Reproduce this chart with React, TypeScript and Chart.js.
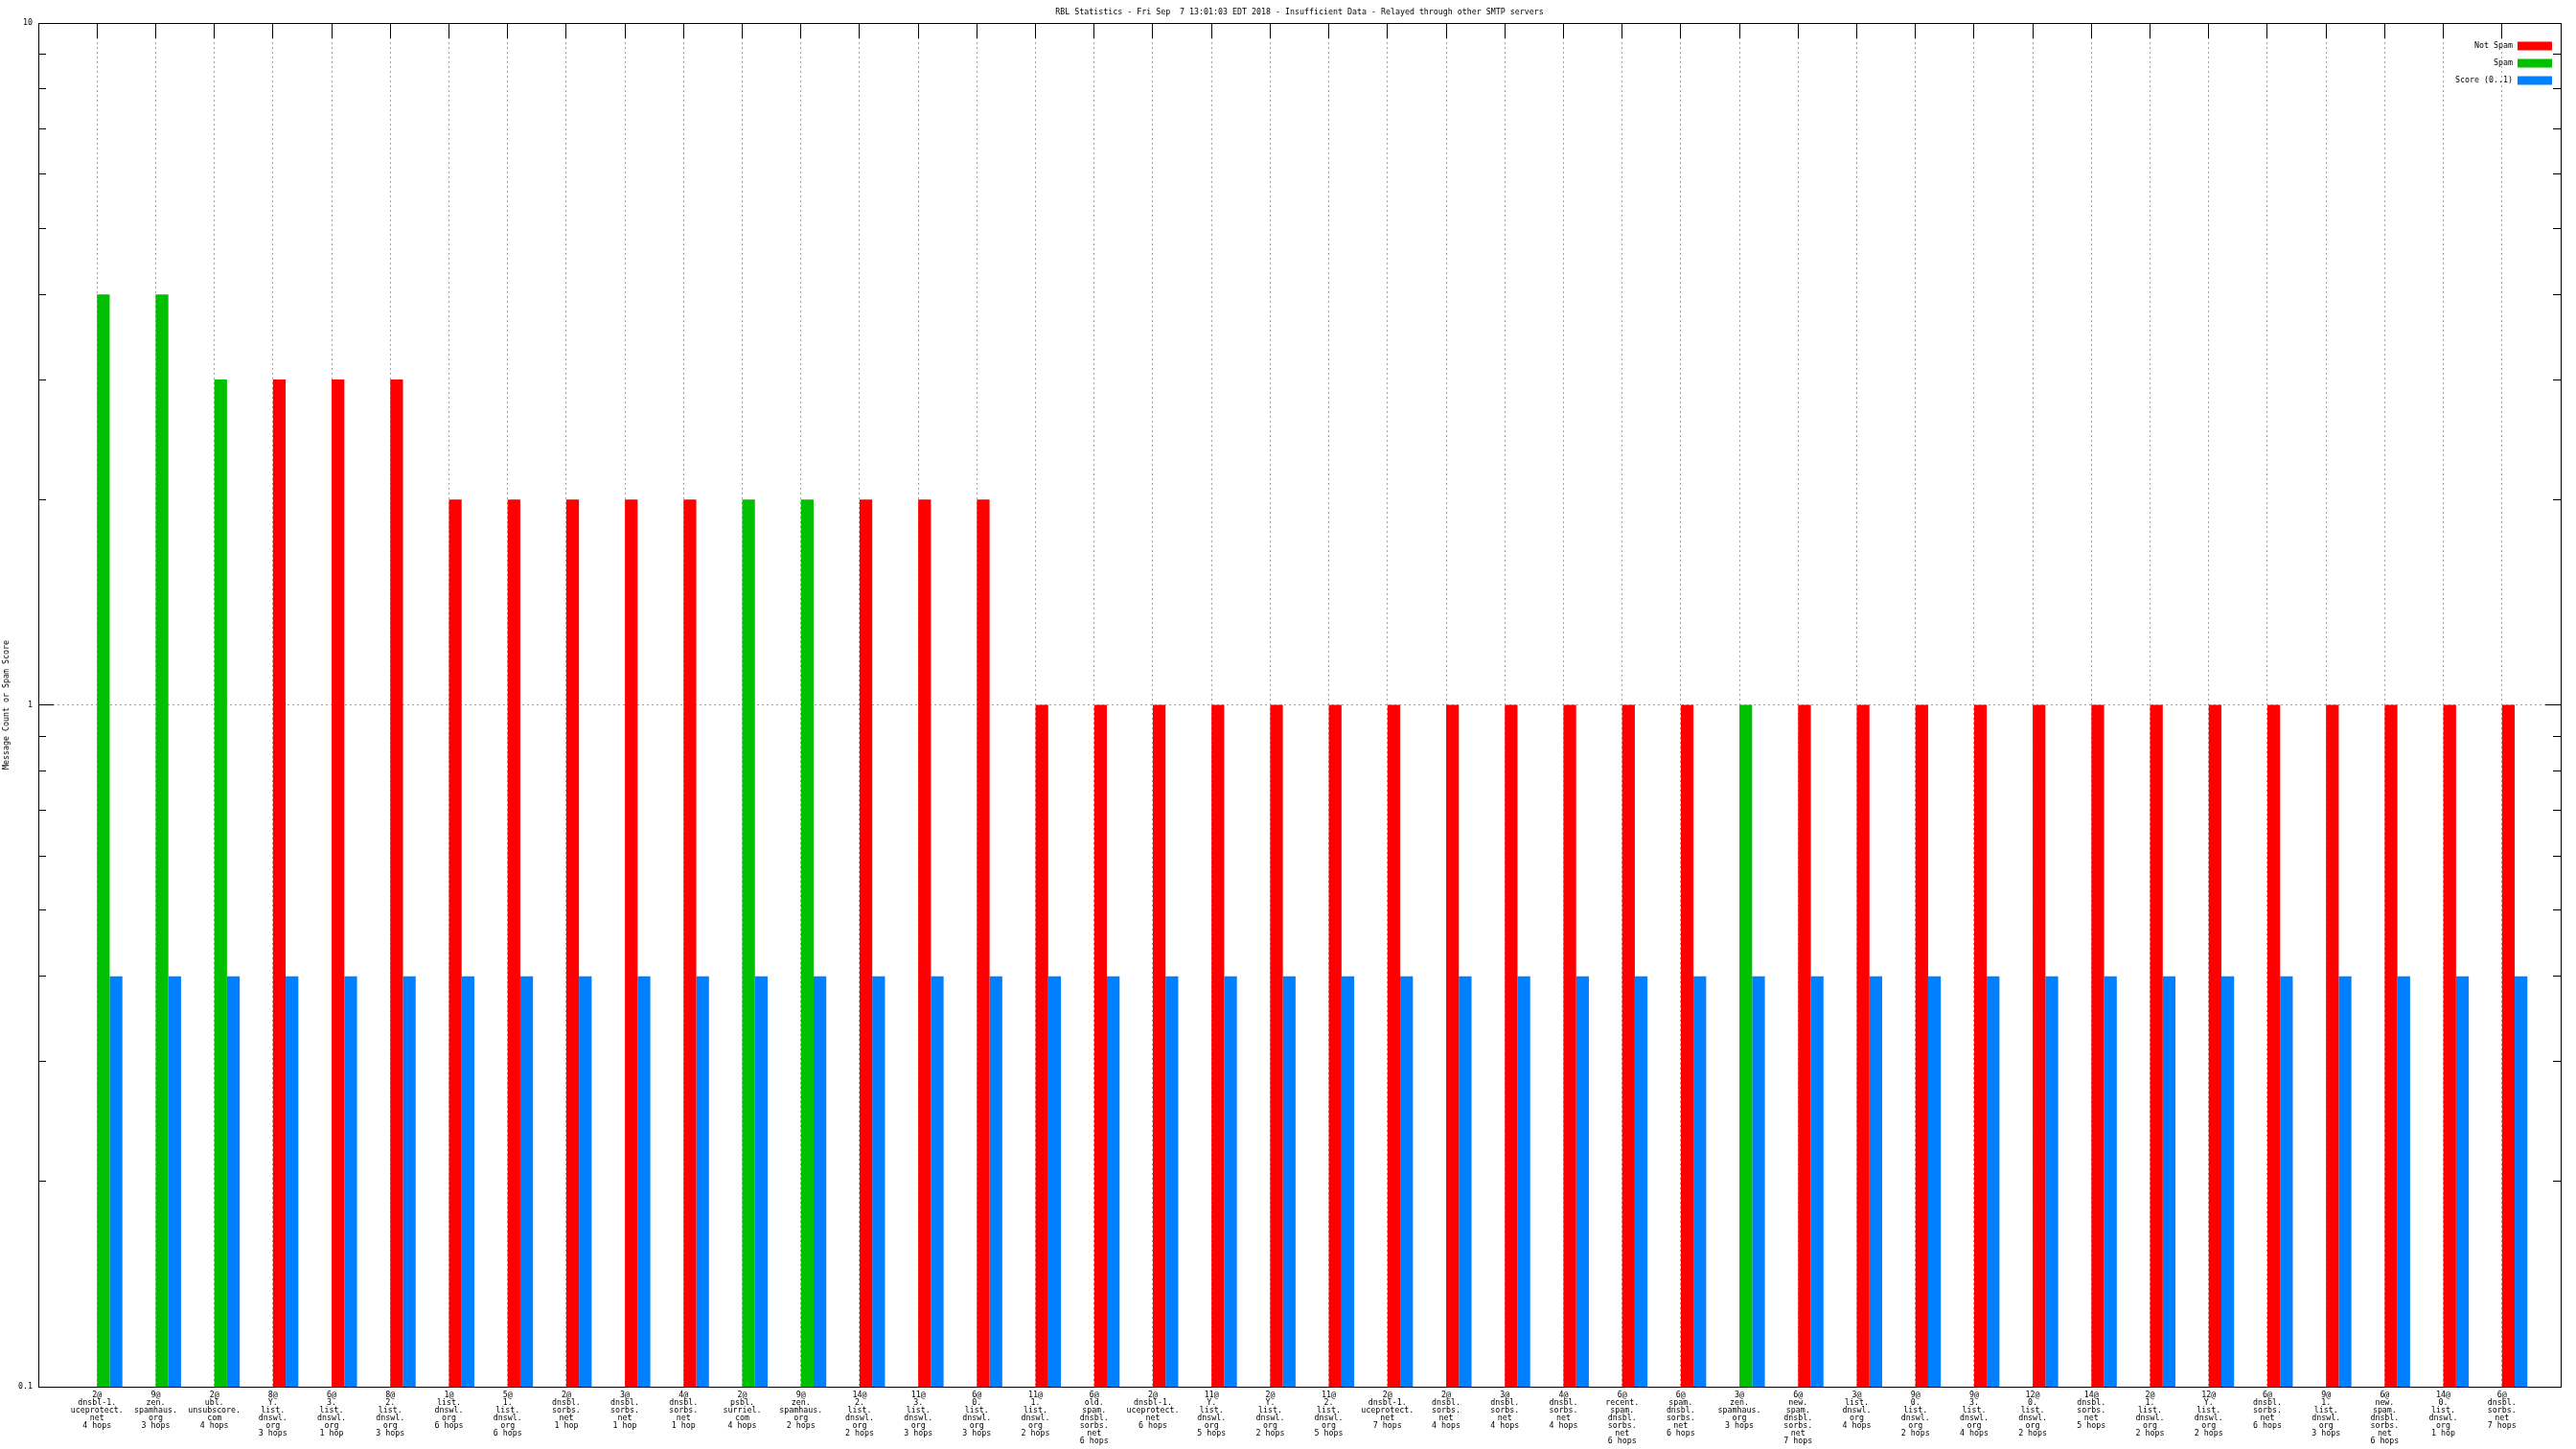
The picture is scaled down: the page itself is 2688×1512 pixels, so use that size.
import React, { useEffect, useRef } from 'react';
import { Chart, registerables } from 'chart.js';

Chart.register(...registerables);

const TITLE =
  'RBL Statistics - Fri Sep  7 13:01:03 EDT 2018 - Insufficient Data - Relayed through other SMTP servers';
const Y_TITLE = 'Message Count or Spam Score';

const categories: string[] = [
  '2@\ndnsbl-1.\nuceprotect.\nnet\n4 hops',
  '9@\nzen.\nspamhaus.\norg\n3 hops',
  '2@\nubl.\nunsubscore.\ncom\n4 hops',
  '8@\nY.\nlist.\ndnswl.\norg\n3 hops',
  '6@\n3.\nlist.\ndnswl.\norg\n1 hop',
  '8@\n2.\nlist.\ndnswl.\norg\n3 hops',
  '1@\nlist.\ndnswl.\norg\n6 hops',
  '5@\n1.\nlist.\ndnswl.\norg\n6 hops',
  '2@\ndnsbl.\nsorbs.\nnet\n1 hop',
  '3@\ndnsbl.\nsorbs.\nnet\n1 hop',
  '4@\ndnsbl.\nsorbs.\nnet\n1 hop',
  '2@\npsbl.\nsurriel.\ncom\n4 hops',
  '9@\nzen.\nspamhaus.\norg\n2 hops',
  '14@\n2.\nlist.\ndnswl.\norg\n2 hops',
  '11@\n3.\nlist.\ndnswl.\norg\n3 hops',
  '6@\n0.\nlist.\ndnswl.\norg\n3 hops',
  '11@\n1.\nlist.\ndnswl.\norg\n2 hops',
  '6@\nold.\nspam.\ndnsbl.\nsorbs.\nnet\n6 hops',
  '2@\ndnsbl-1.\nuceprotect.\nnet\n6 hops',
  '11@\nY.\nlist.\ndnswl.\norg\n5 hops',
  '2@\nY.\nlist.\ndnswl.\norg\n2 hops',
  '11@\n2.\nlist.\ndnswl.\norg\n5 hops',
  '2@\ndnsbl-1.\nuceprotect.\nnet\n7 hops',
  '2@\ndnsbl.\nsorbs.\nnet\n4 hops',
  '3@\ndnsbl.\nsorbs.\nnet\n4 hops',
  '4@\ndnsbl.\nsorbs.\nnet\n4 hops',
  '6@\nrecent.\nspam.\ndnsbl.\nsorbs.\nnet\n6 hops',
  '6@\nspam.\ndnsbl.\nsorbs.\nnet\n6 hops',
  '3@\nzen.\nspamhaus.\norg\n3 hops',
  '6@\nnew.\nspam.\ndnsbl.\nsorbs.\nnet\n7 hops',
  '3@\nlist.\ndnswl.\norg\n4 hops',
  '9@\n0.\nlist.\ndnswl.\norg\n2 hops',
  '9@\n3.\nlist.\ndnswl.\norg\n4 hops',
  '12@\n0.\nlist.\ndnswl.\norg\n2 hops',
  '14@\ndnsbl.\nsorbs.\nnet\n5 hops',
  '2@\n1.\nlist.\ndnswl.\norg\n2 hops',
  '12@\nY.\nlist.\ndnswl.\norg\n2 hops',
  '6@\ndnsbl.\nsorbs.\nnet\n6 hops',
  '9@\n1.\nlist.\ndnswl.\norg\n3 hops',
  '6@\nnew.\nspam.\ndnsbl.\nsorbs.\nnet\n6 hops',
  '14@\n0.\nlist.\ndnswl.\norg\n1 hop',
  '6@\ndnsbl.\nsorbs.\nnet\n7 hops',
];

const messageCounts: number[] = [
  4, 4, 3, 3, 3, 3, 2, 2, 2, 2, 2, 2, 2, 2, 2, 2, 1, 1, 1, 1, 1,
  1, 1, 1, 1, 1, 1, 1, 1, 1, 1, 1, 1, 1, 1, 1, 1, 1, 1, 1, 1, 1,
];

const messageKinds: string[] = [
  'spam', 'spam', 'spam', 'ham', 'ham', 'ham', 'ham', 'ham', 'ham', 'ham', 'ham',
  'spam', 'spam', 'ham', 'ham', 'ham', 'ham', 'ham', 'ham', 'ham', 'ham',
  'ham', 'ham', 'ham', 'ham', 'ham', 'ham', 'ham', 'spam', 'ham', 'ham',
  'ham', 'ham', 'ham', 'ham', 'ham', 'ham', 'ham', 'ham', 'ham', 'ham', 'ham',
];

const spamScores: number[] = [
  0.4, 0.4, 0.4, 0.4, 0.4, 0.4, 0.4, 0.4, 0.4, 0.4, 0.4, 0.4, 0.4, 0.4,
  0.4, 0.4, 0.4, 0.4, 0.4, 0.4, 0.4, 0.4, 0.4, 0.4, 0.4, 0.4, 0.4, 0.4,
  0.4, 0.4, 0.4, 0.4, 0.4, 0.4, 0.4, 0.4, 0.4, 0.4, 0.4, 0.4, 0.4, 0.4,
];

const yMajorTicks: number[] = [0.1, 1, 10];
const yMinorTicks: number[] = [0.2, 0.3, 0.4, 0.5, 0.6, 0.7, 0.8, 0.9, 2, 3, 4, 5, 6, 7, 8, 9];

const legendLabels: string[] = ['Not Spam', 'Spam', 'Score (0..1)'];

const RED = '#ff0000';
const GREEN = '#00c000';
const BLUE = '#0080ff';
const GRID = '#a0a0a0';
const legendColors: string[] = [RED, GREEN, BLUE];
const kindColors: Record<string, string> = { ham: RED, spam: GREEN };

const FONT_FAMILY = '"DejaVu Sans Mono", monospace';
const FONT_SIZE = 8.3;
const GROUP_WIDTH = 0.433;
const TICK_SHIFT = GROUP_WIDTH / 2;

const align = (p: number) => Math.round(p - 0.5) + 0.5;

const gnuplotFrame = {
  id: 'gnuplotFrame',
  beforeDraw(chart: any) {
    const { ctx, width, height } = chart;
    ctx.save();
    ctx.fillStyle = '#ffffff';
    ctx.fillRect(0, 0, width, height);
    ctx.restore();
  },
  beforeDatasetsDraw(chart: any) {
    const { ctx, chartArea: a, scales } = chart;
    ctx.save();
    ctx.strokeStyle = '#000000';
    ctx.lineWidth = 1;
    ctx.beginPath();
    const yTick = (v: number, len: number) => {
      const y = align(scales.y.getPixelForValue(v));
      ctx.moveTo(a.left, y);
      ctx.lineTo(a.left + len, y);
      ctx.moveTo(a.right, y);
      ctx.lineTo(a.right - len, y);
    };
    yMajorTicks.forEach((v) => yTick(v, 16));
    yMinorTicks.forEach((v) => yTick(v, 8));
    scales.x.ticks.forEach((t: any) => {
      const x = align(scales.x.getPixelForValue(t.value));
      ctx.moveTo(x, a.top);
      ctx.lineTo(x, a.top + 16);
    });
    ctx.stroke();
    ctx.restore();
  },
  afterDatasetsDraw(chart: any) {
    const { ctx, chartArea: a } = chart;
    ctx.save();
    ctx.strokeStyle = '#000000';
    ctx.lineWidth = 1;
    const l = align(a.left);
    const t = align(a.top);
    const r = align(a.right);
    const b = align(a.bottom);
    ctx.strokeRect(l, t, r - l, b - t);
    ctx.restore();
  },
  afterDraw(chart: any) {
    const { ctx, chartArea: a } = chart;
    ctx.save();
    ctx.font = `${FONT_SIZE}px ${FONT_FAMILY}`;
    ctx.textAlign = 'right';
    ctx.textBaseline = 'middle';
    legendLabels.forEach((label, i) => {
      const y = a.top + 24 + i * 18;
      ctx.fillStyle = '#000000';
      ctx.fillText(label, a.right - 50, y);
      ctx.fillStyle = legendColors[i];
      ctx.fillRect(a.right - 45, y - 4.5, 36, 9);
    });
    ctx.restore();
  },
};

export default function App() {
  const ref = useRef<HTMLCanvasElement>(null);

  useEffect(() => {
    const canvas = ref.current;
    if (!canvas) return;
    const font = { family: FONT_FAMILY, size: FONT_SIZE, weight: 'normal' as const };
    const chart = new Chart(canvas, {
      type: 'bar',
      data: {
        datasets: [
          {
            label: 'Message Count',
            data: messageCounts.map((v, i) => ({ x: i, y: v })),
            backgroundColor: messageKinds.map((k) => kindColors[k]),
            borderWidth: 0,
            categoryPercentage: GROUP_WIDTH,
            barPercentage: 1,
          },
          {
            label: 'Score (0..1)',
            data: spamScores.map((v, i) => ({ x: i, y: v })),
            backgroundColor: BLUE,
            borderWidth: 0,
            categoryPercentage: GROUP_WIDTH,
            barPercentage: 1,
          },
        ],
      },
      options: {
        responsive: false,
        animation: false,
        devicePixelRatio: 1,
        layout: { padding: { left: 0, right: 16, top: 0, bottom: 0 } },
        plugins: {
          legend: { display: false },
          tooltip: { enabled: false },
          title: {
            display: true,
            text: TITLE,
            fullSize: false,
            color: '#000000',
            font: { ...font, lineHeight: '9px' },
            padding: { top: 8, bottom: 7 },
          },
        },
        scales: {
          x: {
            type: 'linear',
            offset: false,
            min: -1 - TICK_SHIFT,
            max: categories.length - TICK_SHIFT,
            afterBuildTicks: (s: any) => {
              s.ticks = categories.map((_, i) => ({ value: i - TICK_SHIFT }));
            },
            afterFit: (s: any) => {
              s.height = 65;
            },
            grid: {
              display: true,
              drawOnChartArea: true,
              drawTicks: false,
              color: GRID,
              lineWidth: 1,
              offset: false,
            },
            border: { display: false, dash: [2, 3] },
            ticks: {
              autoSkip: false,
              maxRotation: 0,
              minRotation: 0,
              padding: 5,
              color: '#000000',
              font: { ...font, lineHeight: '8px' },
              callback: (_v: any, i: number) => categories[i].split('\n'),
            },
          },
          y: {
            type: 'logarithmic',
            min: 0.1,
            max: 10,
            afterBuildTicks: (s: any) => {
              s.ticks = yMajorTicks.map((v) => ({ value: v, major: true }));
            },
            afterFit: (s: any) => {
              s.width = 40;
            },
            grid: { drawTicks: false, color: GRID, lineWidth: 1 },
            border: { display: false, dash: [2, 3] },
            ticks: {
              padding: 6,
              color: '#000000',
              font,
              callback: (v: any) => String(v),
            },
            title: {
              display: true,
              text: Y_TITLE,
              color: '#000000',
              font,
              padding: { top: 2, bottom: 0 },
            },
          },
        },
      },
      plugins: [gnuplotFrame],
    } as any);
    return () => chart.destroy();
  }, []);

  return (
    <canvas
      ref={ref}
      width={2688}
      height={1512}
      style={{ position: 'fixed', left: 0, top: 0, display: 'block' }}
    />
  );
}
